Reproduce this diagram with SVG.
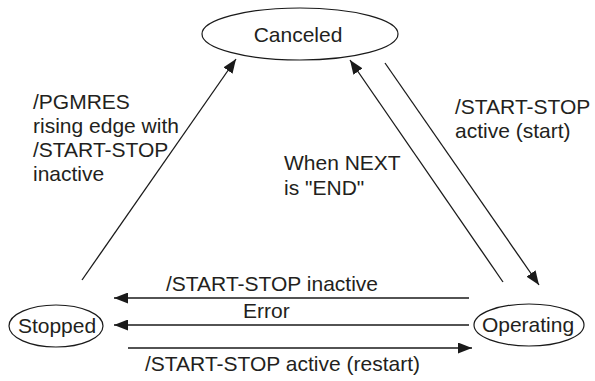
<svg xmlns="http://www.w3.org/2000/svg" width="595" height="381" viewBox="0 0 595 381">
<defs>
<marker id="ah" viewBox="0 0 14 11" refX="14" refY="5.5" markerWidth="14" markerHeight="11" markerUnits="userSpaceOnUse" orient="auto">
<path d="M0,0 L14,5.5 L0,11 Z" fill="#1a1a1a"/>
</marker>
</defs>
<style>
.n{fill:#fff;stroke:#1a1a1a;stroke-width:1.2}
.t{font-family:"Liberation Sans",Arial,sans-serif;font-size:21px;fill:#231f20}
.c{stroke:#1a1a1a;stroke-width:1.3;fill:none;marker-end:url(#ah)}
</style>
<rect width="595" height="381" fill="#fff"/>
<g id="canceled">
<ellipse class="n" cx="300" cy="34" rx="98" ry="26"/>
<text class="t" x="298" y="42" text-anchor="middle">Canceled</text>
</g>
<g id="stopped">
<ellipse class="n" cx="56" cy="326" rx="47" ry="21"/>
<text class="t" x="57" y="333" text-anchor="middle">Stopped</text>
</g>
<g id="operating">
<ellipse class="n" cx="529" cy="325" rx="55" ry="21"/>
<text class="t" x="528" y="332" text-anchor="middle">Operating</text>
</g>
<g id="connectors">
<line class="c" x1="82" y1="280" x2="236" y2="59"/>
<line class="c" x1="503" y1="282" x2="350" y2="60"/>
<line class="c" x1="385" y1="63" x2="539" y2="285"/>
<line class="c" x1="469" y1="298" x2="114" y2="298"/>
<line class="c" x1="469" y1="325" x2="114" y2="325"/>
<line class="c" x1="128" y1="348" x2="472" y2="348"/>
</g>
<g id="labels">
<text class="t" x="33" y="109">/PGMRES</text>
<text class="t" x="33" y="133">rising edge with</text>
<text class="t" x="33" y="157">/START-STOP</text>
<text class="t" x="33" y="181">inactive</text>
<text class="t" x="284" y="170">When NEXT</text>
<text class="t" x="284" y="195">is "END"</text>
<text class="t" x="455" y="114">/START-STOP</text>
<text class="t" x="455" y="138">active (start)</text>
<text class="t" x="166" y="291">/START-STOP inactive</text>
<text class="t" x="243" y="318">Error</text>
<text class="t" x="145" y="371">/START-STOP active (restart)</text>
</g>
</svg>
